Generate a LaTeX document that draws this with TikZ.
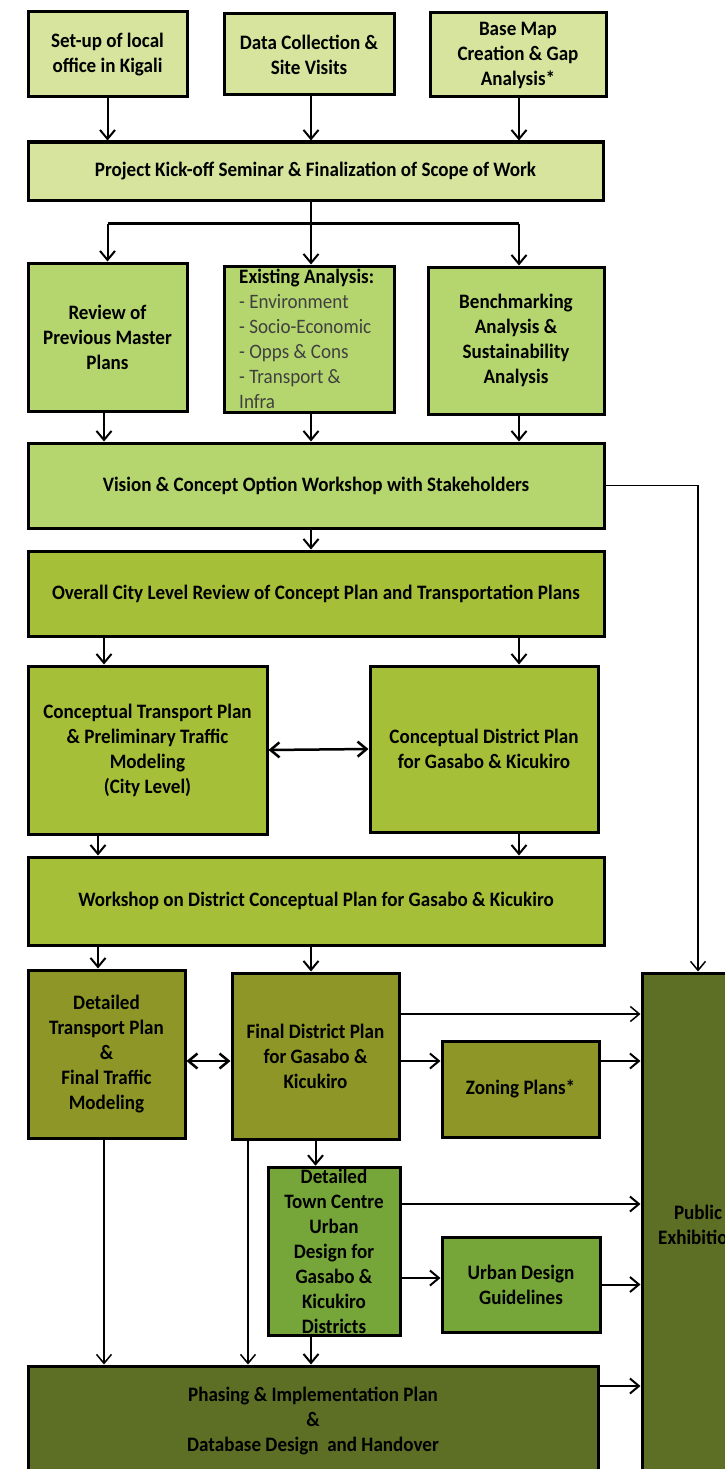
\documentclass[tikz,border=0pt]{standalone}
\usepackage{fontspec}
\setmainfont{Carlito}[FakeStretch=0.93]
\usepackage{xcolor}
\usepackage{tikz}
\usetikzlibrary{arrows.meta}

\definecolor{paleG}{HTML}{D7E49E}
\definecolor{lightG}{HTML}{B5D66E}
\definecolor{midG}{HTML}{A6BF38}
\definecolor{oliveG}{HTML}{8D9626}
\definecolor{grassG}{HTML}{76A63A}
\definecolor{darkG}{HTML}{5C6F24}

\begin{document}
\begin{tikzpicture}[x=1pt, y=-1pt,
    >={Straight Barb[length=9pt,width=15pt]},
    box/.style={draw, line width=3pt, fill=#1, align=center, inner sep=2pt,
        font=\fontsize{20.5}{25}\selectfont\bfseries},
    arr/.style={->, line width=2pt},
    thinarr/.style={->, line width=1.5pt},
    twoway/.style={<->, line width=2.5pt}]
    \useasboundingbox (0,0) rectangle (725,1469);
    \clip (0,0) rectangle (725,1469);

    \coordinate (colA) at (104,0);
    \coordinate (colB) at (311,0);
    \coordinate (colC) at (519,0);
    \coordinate (colD) at (98,0);
    \coordinate (colE) at (248,0);
    \coordinate (rowA) at (0,1014);
    \coordinate (rowB) at (0,1061);
    \coordinate (rowC) at (0,1204);
    \coordinate (rowD) at (0,1278);
    \coordinate (rowE) at (0,1386);

    \node[box=paleG, minimum width=159, minimum height=85] (setup) at (107.5,54.5) {Set-up of local\\office in Kigali};
    \node[box=paleG, minimum width=170, minimum height=81] (datacol) at (309,54.5) {Data Collection \&\\Site Visits};
    \node[box=paleG, minimum width=176, minimum height=84] (basemap) at (518,55) {Base Map\\Creation \& Gap\\Analysis*};
    \node[box=paleG, minimum width=575, minimum height=58] (kickoff) at (315.5,171) {Project Kick-off Seminar \& Finalization of Scope of Work};

    \node[box=lightG, minimum width=159, minimum height=148] (review) at (107.5,337) {Review of\\Previous Master\\Plans};
    \node[box=lightG, minimum width=170, minimum height=146] (existing) at (309,339) {};
    \node[anchor=north west, inner sep=0, align=left, text=black!75,
        font=\fontsize{20.5}{25}\selectfont] (existtext) at (239,269)
        {\textcolor{black}{\bfseries Existing Analysis:}\\- Environment\\- Socio-Economic\\- Opps \& Cons\\- Transport \&\\Infra};
    \node[box=lightG, minimum width=176, minimum height=147] (bench) at (516,340.5) {Benchmarking\\Analysis \&\\Sustainability\\Analysis};
    \node[box=lightG, minimum width=576, minimum height=85] (vision) at (316,485.5) {Vision \& Concept Option Workshop with Stakeholders};

    \node[box=midG, minimum width=576, minimum height=85] (overall) at (316,593.5) {Overall City Level Review of Concept Plan and Transportation Plans};
    \node[box=midG, minimum width=239, minimum height=168] (conctrans) at (147.5,750) {Conceptual Transport Plan\\\& Preliminary Traffic\\Modeling\\(City Level)};
    \node[box=midG, minimum width=228, minimum height=166] (concdist) at (484,749) {Conceptual District Plan\\for Gasabo \& Kicukiro};
    \node[box=midG, minimum width=576, minimum height=88] (workshop) at (316,901) {Workshop on District Conceptual Plan for Gasabo \& Kicukiro};

    \node[box=oliveG, minimum width=157, minimum height=168] (dettrans) at (106.5,1054) {Detailed\\Transport Plan\\\&\\Final Traffic\\Modeling};
    \node[box=oliveG, minimum width=167, minimum height=166] (finaldist) at (315.5,1056) {Final District Plan\\for Gasabo \&\\Kicukiro};
    \node[box=oliveG, minimum width=157, minimum height=96] (zoning) at (520.5,1089) {Zoning Plans*};
    \node[box=grassG, minimum width=132, minimum height=167] (dtc) at (334,1251.5) {Detailed\\Town Centre\\Urban\\Design for\\Gasabo \&\\Kicukiro\\Districts};
    \node[box=grassG, minimum width=158, minimum height=95] (udg) at (521,1284.5) {Urban Design\\Guidelines};
    \node[box=darkG, minimum width=570, minimum height=110] (phasing) at (313,1421) {Phasing \& Implementation Plan\\\&\\Database Design\ \ and Handover};
    \node[box=darkG, minimum width=112, minimum height=503] (pubex) at (698,1224.5) {Public\\Exhibition};

    \draw[arr] (setup.south) -- (setup.south |- kickoff.north);
    \draw[arr] (datacol.south -| colB) -- (kickoff.north -| colB);
    \draw[arr] (basemap.south -| colC) -- (kickoff.north -| colC);
    \draw[line width=2.5pt] (kickoff.south -| colB) -- ++(0,22) coordinate (split);
    \draw[line width=2.5pt] (split -| review) -- (split -| colC);
    \draw[arr] (split -| review) -- (review.north);
    \draw[arr] (split) -- (existing.north -| colB);
    \draw[arr] (split -| colC) -- (bench.north -| colC);

    \draw[arr] (review.south -| colA) -- (vision.north -| colA);
    \draw[arr] (existing.south -| colB) -- (vision.north -| colB);
    \draw[arr] (bench.south -| colC) -- (vision.north -| colC);
    \draw[arr] (vision.south -| colB) -- (overall.north -| colB);
    \draw[thinarr] (vision.east) -| (pubex.north);

    \draw[arr] (overall.south -| colA) -- (conctrans.north -| colA);
    \draw[arr] (overall.south -| colC) -- (concdist.north -| colC);
    \draw[twoway] (conctrans.east) -- (concdist.west);
    \draw[arr] (conctrans.south -| colD) -- (workshop.north -| colD);
    \draw[arr] (concdist.south -| colC) -- (workshop.north -| colC);
    \draw[arr] (workshop.south -| colD) -- (dettrans.north -| colD);
    \draw[arr] (workshop.south -| colB) -- (finaldist.north -| colB);

    \draw[twoway] (dettrans.east |- rowB) -- (finaldist.west |- rowB);
    \draw[thinarr] (finaldist.east |- rowA) -- (pubex.west |- rowA);
    \draw[arr] (finaldist.east |- rowB) -- (zoning.west |- rowB);
    \draw[arr] (zoning.east |- rowB) -- (pubex.west |- rowB);
    \draw[arr] (finaldist.south) -- (finaldist.south |- dtc.north);
    \draw[arr] (dtc.east |- rowC) -- (pubex.west |- rowC);
    \draw[arr] (dtc.east |- rowD) -- (udg.west |- rowD);
    \draw[arr] (udg.east) -- (pubex.west |- udg.east);
    \draw[thinarr] (dettrans.south -| colA) -- (phasing.north -| colA);
    \draw[thinarr] (finaldist.south -| colE) -- (phasing.north -| colE);
    \draw[arr] (dtc.south -| colB) -- (phasing.north -| colB);
    \draw[arr] (phasing.east |- rowE) -- (pubex.west |- rowE);
\end{tikzpicture}
\end{document}
